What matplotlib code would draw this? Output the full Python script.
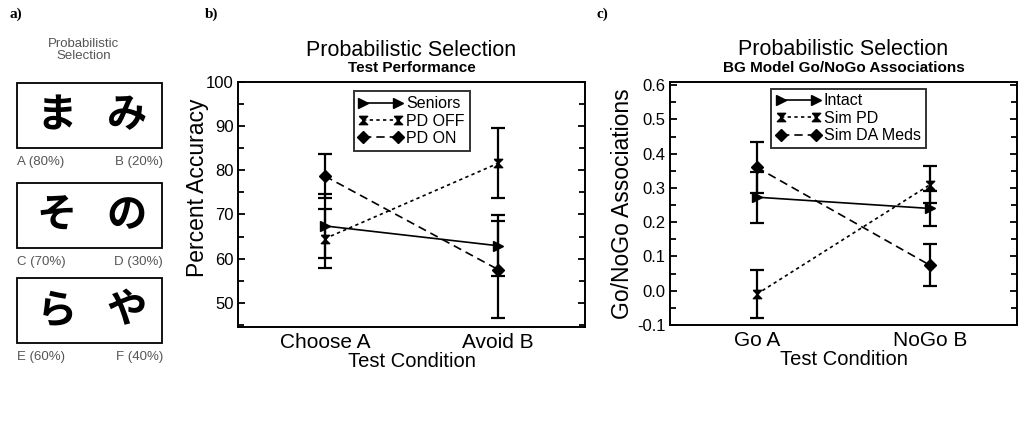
import matplotlib
matplotlib.use("Agg")
import matplotlib.pyplot as plt
from matplotlib.patches import Rectangle
from matplotlib.ticker import MultipleLocator, FormatStrFormatter

plt.rcParams["font.family"] = ["Liberation Sans", "DejaVu Sans"]

# ── Data ─────────────────────────────────────────────────────────────────────
stim_pairs   = [("ま", "み"), ("そ", "の"), ("ら", "や")]
stim_labels  = [("A (80%)", "B (20%)"), ("C (70%)", "D (30%)"), ("E (60%)", "F (40%)")]

cond_b       = ["Choose A", "Avoid B"]
seniors      = [67.4, 62.9]
seniors_err  = [7.2, 6.9]
pd_off       = [64.5, 81.6]
pd_off_err   = [6.7, 7.9]
pd_on        = [78.7, 57.5]
pd_on_err    = [5.0, 11.0]

cond_c       = ["Go A", "NoGo B"]
intact       = [0.273, 0.240]
intact_err   = [0.074, 0.050]
sim_pd       = [-0.010, 0.310]
sim_pd_err   = [0.070, 0.055]
sim_da       = [0.360, 0.074]
sim_da_err   = [0.075, 0.061]

W, H = 1019, 423
BOWTIE = [(-1, 1), (1, 1), (-1, -1), (1, -1), (-1, 1)]

fig = plt.figure(figsize=(W / 100, H / 100), dpi=100)

# ── Panel a: stimulus boxes (pixel coordinates overlay) ─────────────────────
ax0 = fig.add_axes([0, 0, 1, 1], zorder=0)
ax0.set_xlim(0, W)
ax0.set_ylim(H, 0)
ax0.axis("off")

for x, lab in ((10, "a)"), (205, "b)"), (597, "c)")):
    ax0.text(x, 18, lab, fontsize=11, fontweight="bold", family="Liberation Serif",
             va="baseline")
ax0.text(84, 50, "Probabilistic\nSelection", fontsize=9.5, color="#555555",
         ha="center", va="center", linespacing=1.05)

box_tops = [83, 183, 278]
for top, (c1, c2), (l1, l2) in zip(box_tops, stim_pairs, stim_labels):
    ax0.add_patch(Rectangle((17, top), 145, 65, fill=False, lw=1.3, ec="black"))
    for cx, ch in ((57, c1), (127, c2)):
        ax0.text(cx, top + 33, ch, fontsize=29, family="Noto Sans CJK JP",
                 fontweight="bold", ha="center", va="center")
    ax0.text(17, top + 82, l1, fontsize=9.5, color="#555555", va="baseline")
    ax0.text(163, top + 82, l2, fontsize=9.5, color="#555555", va="baseline", ha="right")


def style_axes(ax, major, minor):
    for s in ax.spines.values():
        s.set_linewidth(1.4)
    ax.yaxis.set_major_locator(MultipleLocator(major))
    ax.yaxis.set_minor_locator(MultipleLocator(minor))
    ax.tick_params(axis="y", which="both", direction="in", left=True, right=True,
                   width=1.3, labelsize=12, pad=3)
    ax.tick_params(axis="y", which="major", length=5)
    ax.tick_params(axis="y", which="minor", length=4)
    ax.tick_params(axis="x", length=0, labelsize=15, pad=4)
    ax.set_xlim(-0.5, 1.5)
    ax.set_xticks([0, 1])


def draw_series(ax, y, err, marker, ls, label, ms):
    ax.errorbar([0, 1], y, yerr=err, fmt="none", ecolor="black",
                capsize=5, capthick=1.6, elinewidth=1.6)
    ax.plot([0, 1], y, color="black", lw=1.2, ls=ls, marker=marker, ms=ms,
            label=label)


def titles(ax, sub, ylabel, ylab_x, ylab_y):
    ax.text(0.5, 1.108, "Probabilistic Selection", transform=ax.transAxes,
            ha="center", va="baseline", fontsize=15.5)
    ax.text(0.5, 1.04, sub, transform=ax.transAxes, ha="center", va="baseline",
            fontsize=11, fontweight="semibold")
    ax.text(ylab_x, ylab_y, ylabel, transform=ax.transAxes, rotation=90,
            ha="center", va="center", fontsize=16.5)
    ax.set_xlabel("Test Condition", fontsize=14.5, labelpad=0)


leg_kw = dict(frameon=True, fancybox=False, edgecolor="black", fontsize=11.5,
              handlelength=2.8, handletextpad=0.2, labelspacing=0.15,
              borderpad=0.3, borderaxespad=0.2, numpoints=2)

# ── Panel b: test performance ───────────────────────────────────────────────
axb = fig.add_axes([238 / W, 1 - 327 / H, 347 / W, 245 / H])
style_axes(axb, 10, 5)
axb.set_ylim(44.5, 100)
axb.set_xticklabels(cond_b)
draw_series(axb, seniors, seniors_err, ">", "-", "Seniors", 7)
draw_series(axb, pd_off, pd_off_err, BOWTIE, (0, (2, 2)), "PD OFF", 6)
draw_series(axb, pd_on, pd_on_err, "D", (0, (5, 3)), "PD ON", 6)
titles(axb, "Test Performance", "Percent Accuracy", -0.118, 0.57)
lg = axb.legend(loc="upper center", bbox_to_anchor=(0.5, 0.975), **leg_kw)
lg.get_frame().set_linewidth(1.4)

# ── Panel c: BG model Go/NoGo ───────────────────────────────────────────────
axc = fig.add_axes([670 / W, 1 - 325 / H, 347 / W, 243.3 / H])
style_axes(axc, 0.1, 0.05)
axc.set_ylim(-0.1, 0.61)
axc.yaxis.set_major_formatter(FormatStrFormatter("%.1f"))
axc.set_xticklabels(cond_c)
draw_series(axc, intact, intact_err, ">", "-", "Intact", 7)
draw_series(axc, sim_pd, sim_pd_err, BOWTIE, (0, (2, 2)), "Sim PD", 6)
draw_series(axc, sim_da, sim_da_err, "D", (0, (5, 3)), "Sim DA Meds", 6)
titles(axc, "BG Model Go/NoGo Associations", "Go/NoGo Associations", -0.138, 0.5)
lg = axc.legend(loc="upper center", bbox_to_anchor=(0.514, 0.985), **leg_kw)
lg.get_frame().set_linewidth(1.4)

fig.savefig("out.png", dpi=100)
